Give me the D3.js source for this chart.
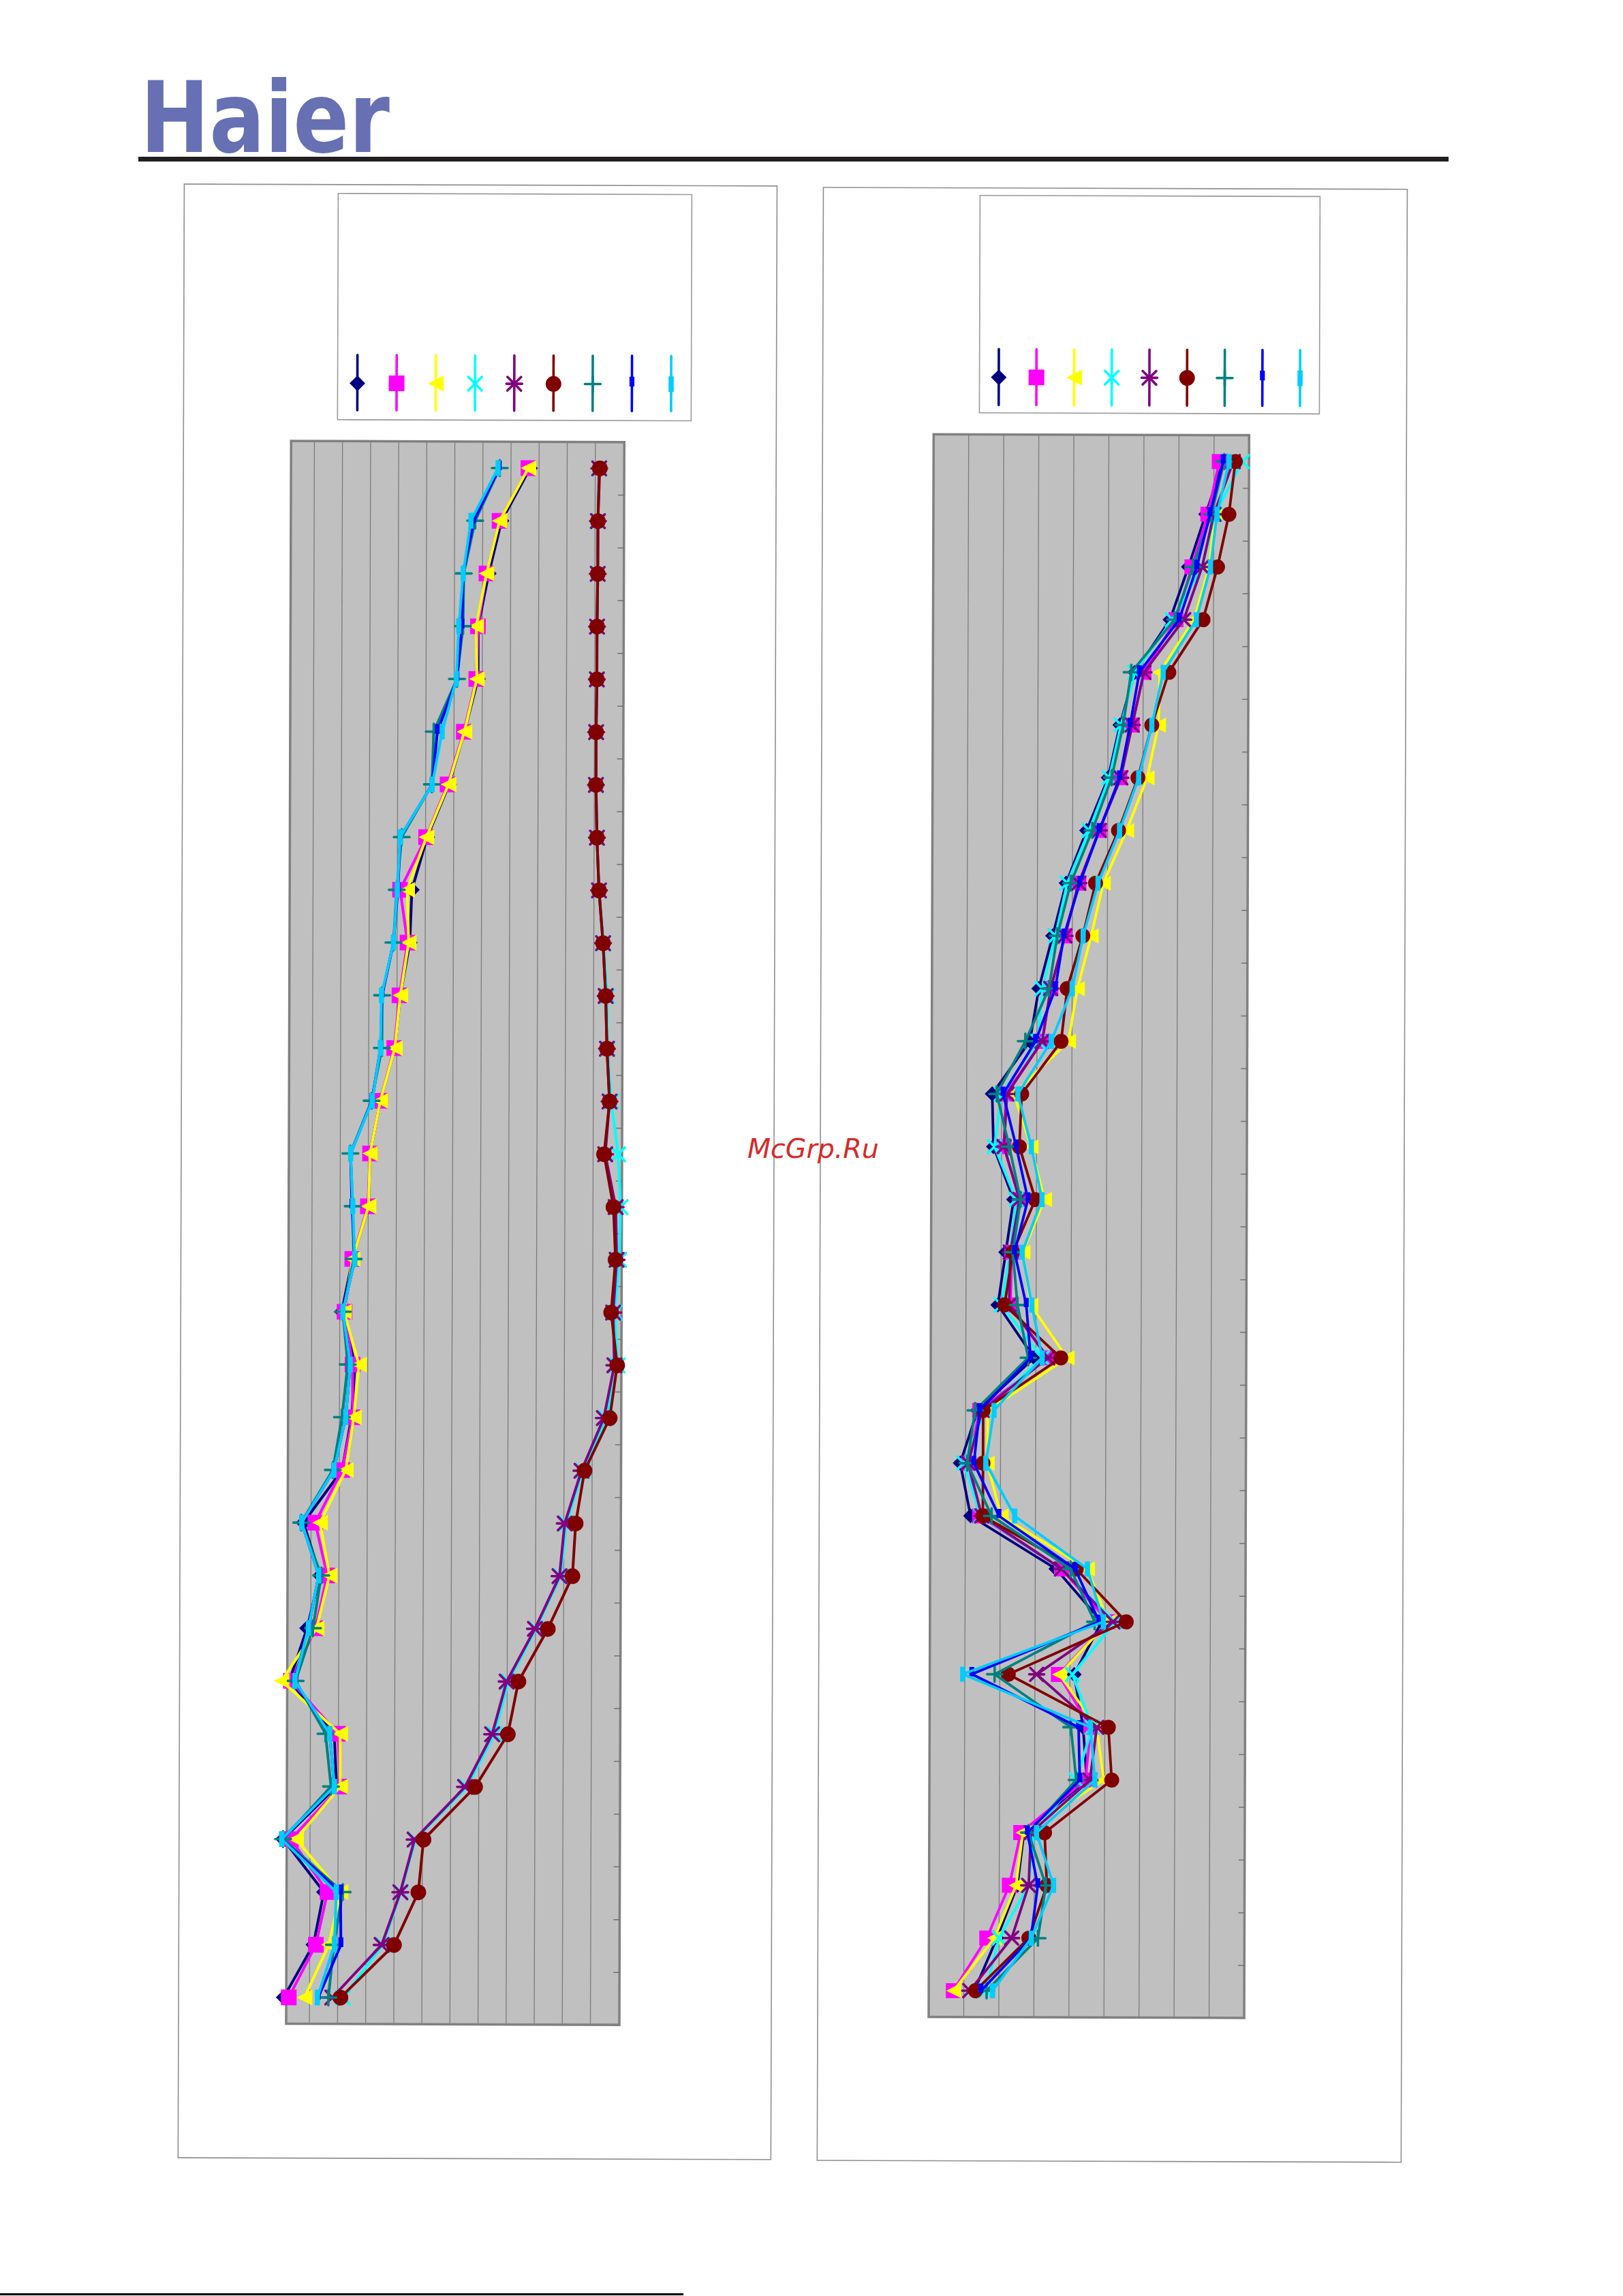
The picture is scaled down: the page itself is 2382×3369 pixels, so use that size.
<!DOCTYPE html>
<html><head><meta charset="utf-8">
<script src="https://cdn.jsdelivr.net/npm/d3@7"></script>
<style>html,body{margin:0;padding:0;background:#fff}svg{display:block}</style>
</head><body>
<svg id="c" width="2382" height="3369"></svg>
<script>
// ---------------- DATA ----------------
const categories = d3.range(1, 31).map(String);           // 30 rows, top to bottom
const leftGridTicks  = d3.range(1, 12);                    // value gridlines, left chart
const rightGridTicks = d3.range(1, 9);                     // value gridlines, right chart
const seriesKeys = ["s1","s2","s3","s4","s5","s6","s7","s8","s9"];

// left chart, one array per series (row 1 = top)
const leftS1 = [8.68,7.67,7.22,6.85,6.85,6.37,5.83,5.06,4.52,4.45,4.12,3.93,3.42,3.06,3.01,2.45,2.07,2.55,2.43,2.10,0.73,1.33,0.87,0.25,1.85,1.94,0.04,1.50,1.13,0.08];
const leftS2 = [8.62,7.60,7.14,6.84,6.79,6.35,5.78,5.02,4.10,4.37,4.09,3.91,3.42,3.06,2.99,2.44,2.17,2.46,2.47,2.10,1.15,1.58,1.17,0.30,1.98,2.07,0.32,1.63,1.22,0.26];
const leftS3 = [8.62,7.60,7.14,6.78,6.81,6.37,5.81,5.03,4.35,4.41,4.12,3.93,3.42,3.06,3.01,2.45,2.15,2.69,2.51,2.23,1.32,1.66,1.21,-0.03,2.06,2.07,0.50,2.09,1.68,0.82];
const leftS4 = [11.14,11.10,11.10,11.08,11.08,11.06,11.06,11.10,11.18,11.35,11.48,11.50,11.64,11.89,11.98,11.94,11.79,11.90,11.49,10.67,10.09,9.89,9.02,8.05,7.55,6.58,4.75,4.24,3.60,2.19];
const leftS5 = [11.14,11.10,11.10,11.08,11.08,11.06,11.06,11.10,11.18,11.33,11.43,11.48,11.58,11.43,11.81,11.85,11.73,11.78,11.41,10.62,10.03,9.85,8.98,7.98,7.47,6.51,4.72,4.22,3.56,1.81];
const leftS6 = [11.16,11.10,11.10,11.08,11.08,11.06,11.06,11.10,11.18,11.33,11.43,11.48,11.58,11.39,11.73,11.81,11.66,11.88,11.62,10.73,10.42,10.31,9.44,8.40,8.03,6.87,5.04,4.86,4.00,2.10];
const leftS7 = [7.60,6.73,6.33,6.31,6.10,5.28,5.22,4.15,3.98,3.87,3.47,3.47,3.11,2.36,2.45,2.49,2.11,2.29,2.09,1.77,0.65,1.37,1.08,0.47,1.54,1.74,0.04,2.17,1.86,1.67];
const leftS8 = [7.58,6.68,6.31,6.27,6.10,5.41,5.23,4.10,4.02,3.87,3.47,3.42,3.12,2.37,2.42,2.53,2.11,2.38,2.22,1.81,0.67,1.28,0.92,0.42,1.69,1.86,-0.01,2.09,2.11,1.31];
const leftS9 = [7.54,6.58,6.31,6.16,6.08,5.58,5.23,4.10,4.00,3.87,3.45,3.42,3.13,2.37,2.45,2.53,2.11,2.38,2.22,1.81,0.67,1.28,0.92,0.44,1.69,1.86,-0.01,1.94,1.88,1.28];

// right chart
const rightS1 = [8.26,7.77,7.28,6.76,5.76,5.34,5.01,4.40,3.82,3.44,3.05,2.80,1.73,1.77,2.35,2.13,1.91,2.95,1.34,0.85,1.15,3.59,4.90,4.12,4.38,4.49,2.70,2.52,1.94,1.30];
const rightS2 = [8.15,7.83,7.38,6.93,6.02,5.69,5.34,4.76,4.18,3.79,3.39,3.15,2.12,2.07,2.52,2.30,2.27,3.34,1.40,1.08,1.41,3.75,5.09,3.67,4.60,4.45,2.61,2.29,1.65,0.70];
const rightS3 = [8.48,8.03,7.87,7.44,6.47,6.44,6.12,5.54,4.88,4.54,4.15,3.90,2.35,2.84,3.23,2.62,2.85,3.89,1.63,1.62,2.02,4.49,5.09,3.70,4.77,4.97,2.67,2.48,1.87,0.71];
const rightS4 = [8.81,8.03,7.67,6.83,5.76,5.37,5.04,4.47,3.85,3.52,3.15,3.03,1.99,1.80,2.42,2.26,2.01,3.18,1.56,0.95,1.44,3.75,5.28,4.07,4.64,4.19,2.99,2.84,2.00,1.62];
const rightS5 = [8.55,8.00,7.67,7.15,6.02,5.69,5.37,4.76,4.18,3.79,3.39,3.15,2.15,2.07,2.52,2.26,2.23,3.34,1.47,1.08,1.47,3.75,5.22,3.05,4.77,4.58,2.90,2.84,2.36,1.17];
const rightS6 = [8.61,8.43,8.11,7.70,6.73,6.25,5.86,5.31,4.66,4.30,3.86,3.69,2.57,2.51,2.97,2.33,2.10,3.71,1.50,1.50,1.50,4.17,5.60,2.24,5.10,5.20,3.29,3.36,2.85,1.33];
const rightS7 = [8.29,7.93,7.41,6.89,5.66,5.43,5.11,4.56,3.95,3.57,3.34,2.67,1.86,2.22,2.55,2.33,2.47,2.78,1.27,1.05,1.75,4.01,4.70,1.85,4.03,4.19,2.83,3.33,3.11,1.65];
const rightS8 = [8.26,7.89,7.52,7.02,5.89,5.63,5.34,4.76,4.21,3.76,3.52,2.96,2.04,2.42,2.76,2.38,2.72,2.85,1.40,1.24,1.96,4.14,4.83,1.20,4.25,4.29,2.80,3.10,2.91,1.49];
const rightS9 = [8.43,8.09,7.91,7.51,6.57,6.25,5.88,5.34,4.73,4.31,4.00,3.41,2.46,2.85,3.16,2.60,2.88,3.18,1.81,1.58,2.41,4.49,4.95,0.94,4.59,4.72,3.06,3.55,2.92,1.82];

// ---------------- STYLE ----------------
const seriesColors  = ["#000080","#ff00ff","#ffff00","#00ffff","#800080","#800000","#008080","#0000ff","#00ccff"];
const seriesMarkers = ["diamond","square","triLeft","x","star","circle","plus","shortBar","longBar"];

const svg = d3.select("#c");

// page header (not rotated)
svg.append("text").attr("x",206).attr("y",223).text("Haier")
  .attr("font-family","DejaVu Sans").attr("font-weight","bold").attr("font-size",144)
  .attr("textLength",366).attr("lengthAdjust","spacingAndGlyphs").attr("fill","#6670b2");
svg.append("rect").attr("x",203).attr("y",230).attr("width",1923).attr("height",7).attr("fill","#231f20");
svg.append("rect").attr("x",0).attr("y",3365).attr("width",1003).attr("height",3).attr("fill","#000");

// scanned chart content, slightly rotated
const g = svg.append("g").attr("transform","rotate(0.18,1191,1684)");

function frame(x,y,w,h){
  g.append("rect").attr("x",x).attr("y",y).attr("width",w).attr("height",h)
   .attr("fill","none").attr("stroke","#8f8f8f").attr("stroke-width",1.6);
}
frame(266,273,870,2896);
frame(1204,275,857,2895);

function marker(sel, type, color, sz){
  const s = sz/2;
  if(type==="diamond") sel.append("path").attr("d",`M0,${-s}L${s},0L0,${s}L${-s},0Z`).attr("fill",color);
  else if(type==="square") sel.append("rect").attr("x",-s).attr("y",-s).attr("width",sz).attr("height",sz).attr("fill",color);
  else if(type==="triLeft") sel.append("path").attr("d",`M${-s},0L${s},${-s}L${s},${s}Z`).attr("fill",color);
  else if(type==="circle") sel.append("circle").attr("r",s).attr("fill",color);
  else if(type==="x") sel.append("path").attr("d",`M${-s+1.5},${-s+1.5}L${s-1.5},${s-1.5}M${-s+1.5},${s-1.5}L${s-1.5},${-s+1.5}`)
      .attr("stroke",color).attr("stroke-width",3.6).attr("stroke-linecap","round").attr("fill","none");
  else if(type==="star") sel.append("path").attr("d",`M${-s+1.5},${-s+1.5}L${s-1.5},${s-1.5}M${-s+1.5},${s-1.5}L${s-1.5},${-s+1.5}M${-s},0L${s},0`)
      .attr("stroke",color).attr("stroke-width",3.6).attr("stroke-linecap","round").attr("fill","none");
  else if(type==="plus") sel.append("path").attr("d",`M${-s},0L${s},0M0,${-s}L0,${s}`)
      .attr("stroke",color).attr("stroke-width",3.6).attr("stroke-linecap","round").attr("fill","none");
  else if(type==="shortBar") sel.append("rect").attr("x",-3.6).attr("y",-s+0.5).attr("width",7.2).attr("height",sz*0.62).attr("fill",color);
  else if(type==="longBar") sel.append("rect").attr("x",-3.8).attr("y",-s).attr("width",7.6).attr("height",sz).attr("fill",color);
}

function legend(box, x0, x1, yTop, yBot, yMid){
  g.append("rect").attr("x",box[0]).attr("y",box[1]).attr("width",box[2]).attr("height",box[3])
   .attr("fill","#fff").attr("stroke","#9a9a9a").attr("stroke-width",1.6);
  const lx = d3.scalePoint().domain(seriesKeys).range([x0,x1]);
  seriesKeys.forEach((k,i)=>{
    const e = g.append("g").attr("transform",`translate(${lx(k)},0)`);
    e.append("line").attr("x1",0).attr("x2",0).attr("y1",yTop).attr("y2",yBot)
     .attr("stroke",seriesColors[i]).attr("stroke-width",3.6).attr("stroke-linecap","round");
    marker(e.append("g").attr("transform",`translate(0,${yMid})`), seriesMarkers[i], seriesColors[i], 23);
  });
}
legend([492,286,519,332], 521, 981.5, 523, 604, 564.5);
legend([1434,286,499,319], 1462.3, 1904.5, 511.5, 593.5, 552.8);

function plot(p, domain, ticks, data, sz, lw){
  const x = d3.scaleLinear().domain(domain).range([p.x0,p.x1]);
  const y = d3.scalePoint().domain(categories).range([p.y0,p.y1]).padding(0.5);
  const yb = d3.scaleLinear().domain([0,categories.length]).range([p.y0,p.y1]);
  g.append("rect").attr("x",p.x0).attr("y",p.y0).attr("width",p.x1-p.x0).attr("height",p.y1-p.y0).attr("fill","#c0c0c0");
  g.append("g").selectAll("line").data(ticks).join("line")
    .attr("x1",d=>x(d)).attr("x2",d=>x(d)).attr("y1",p.y0).attr("y2",p.y1)
    .attr("stroke","#7c7c7c").attr("stroke-width",1.3);
  g.append("rect").attr("x",p.x0).attr("y",p.y0).attr("width",p.x1-p.x0).attr("height",p.y1-p.y0)
    .attr("fill","none").attr("stroke","#808080").attr("stroke-width",3.5);
  const ax = g.append("g").attr("transform",`translate(${p.x1},0)`)
    .call(d3.axisLeft(yb).tickValues(d3.range(1,categories.length)).tickSize(9).tickFormat(""));
  ax.select(".domain").remove();
  ax.selectAll("line").attr("stroke","#707070").attr("stroke-width",1.5);
  const line = d3.line().x(d=>x(d)).y((d,i)=>y(categories[i]));
  data.forEach((vals,si)=>{
    const sg = g.append("g");
    sg.append("path").attr("d",line(vals)).attr("fill","none").attr("stroke",seriesColors[si])
      .attr("stroke-width",lw).attr("stroke-linejoin","round");
    vals.forEach((v,i)=>{
      marker(sg.append("g").attr("transform",`translate(${x(v)},${y(categories[i])})`), seriesMarkers[si], seriesColors[si], sz);
    });
  });
}
plot({x0:424,x1:913,y0:649.5,y1:2972}, [0.17,12.03], leftGridTicks,
     [leftS1,leftS2,leftS3,leftS4,leftS5,leftS6,leftS7,leftS8,leftS9], 23, 4);
plot({x0:1367,x1:1830,y0:636.6,y1:2959}, [0,9], rightGridTicks,
     [rightS1,rightS2,rightS3,rightS4,rightS5,rightS6,rightS7,rightS8,rightS9], 22, 3.8);

// watermark (not rotated)
svg.append("text").attr("x",1097).attr("y",1699).text("McGrp.Ru")
  .attr("font-family","DejaVu Sans").attr("font-style","italic").attr("font-size",39.5).attr("fill","#d62a2a");
</script>
</body></html>
